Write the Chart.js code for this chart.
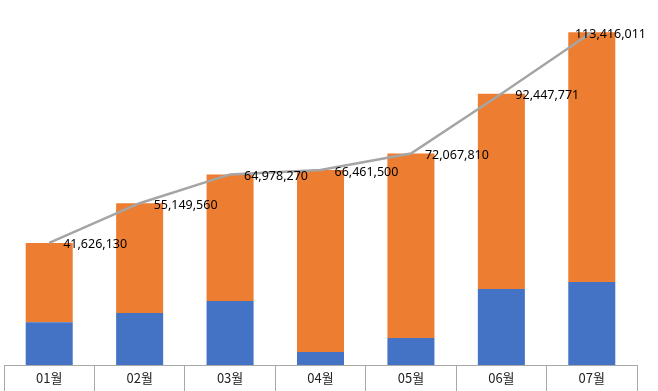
<!DOCTYPE html>
<html>
<head>
<meta charset="utf-8">
<script src="https://cdn.jsdelivr.net/npm/chart.js@4"></script>
<style>
  html, body { margin: 0; padding: 0; background: #fff; }
  #wrap { width: 658px; height: 391px; position: relative; }
</style>
</head>
<body>
<div id="wrap"><canvas id="salesChart"></canvas></div>
<script>
// chart data
const months = ['01월', '02월', '03월', '04월', '05월', '06월', '07월'];
const blueValues = [14600000, 17700000, 21800000, 4400000, 9200000, 25900000, 28300000];
const totals = [41626130, 55149560, 64978270, 66461500, 72067810, 92447771, 113416011];
const orangeValues = [27026130, 37449560, 43178270, 62061500, 62867810, 66547771, 85116011];

// total labels to the right of each line point
const totalLabels = {
  id: 'totalLabels',
  afterDatasetsDraw(chart) {
    const ctx = chart.ctx;
    const meta = chart.getDatasetMeta(2);
    ctx.save();
    ctx.font = '12.5px "Noto Sans", "Noto Sans CJK KR", sans-serif';
    ctx.fillStyle = '#000';
    ctx.textBaseline = 'middle';
    ctx.textAlign = 'left';
    meta.data.forEach((pt, i) => {
      const text = totals[i].toLocaleString('en-US');
      const w = ctx.measureText(text).width;
      const x = Math.min(pt.x + 14, chart.width - 12 - w);
      ctx.fillText(text, x, pt.y + 2);
    });
    ctx.restore();
  }
};

const ctx = document.getElementById('salesChart').getContext('2d');
new Chart(ctx, {
  data: {
    labels: months,
    datasets: [
      {
        type: 'bar',
        data: blueValues,
        backgroundColor: '#4472C4',
        stack: 's',
        order: 1
      },
      {
        type: 'bar',
        data: orangeValues,
        backgroundColor: '#ED7D31',
        stack: 's',
        order: 1
      },
      {
        type: 'line',
        data: totals,
        borderColor: '#A5A5A5',
        borderWidth: 2.5,
        pointRadius: 0,
        tension: 0,
        fill: false,
        order: 0
      }
    ]
  },
  options: {
    responsive: true,
    maintainAspectRatio: false,
    animation: false,
    layout: { padding: { left: 4, right: 21, top: 13, bottom: 0 } },
    datasets: {
      bar: { categoryPercentage: 1, barPercentage: 0.52 }
    },
    plugins: {
      legend: { display: false },
      tooltip: { enabled: false }
    },
    scales: {
      x: {
        stacked: true,
        offset: true,
        grid: {
          offset: true,
          drawOnChartArea: false,
          tickLength: 26,
          color: '#a8a8a8',
          lineWidth: 1
        },
        border: { color: '#a8a8a8', width: 1 },
        ticks: {
          padding: -21,
          color: '#222',
          font: { family: '"Noto Sans CJK KR", sans-serif', size: 13 }
        },
        afterFit(scale) { scale.height = 26; }
      },
      y: {
        stacked: true,
        display: false,
        min: 0,
        max: 120000000
      }
    }
  },
  plugins: [totalLabels]
});
</script>
</body>
</html>
